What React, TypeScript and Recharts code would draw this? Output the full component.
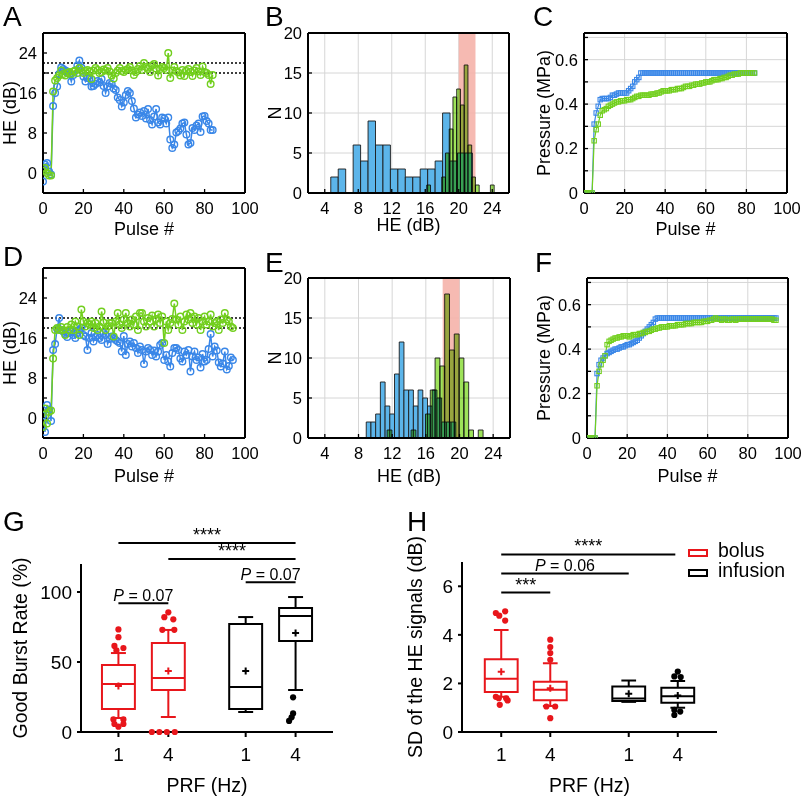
import React from 'react';
import {
  ComposedChart, Line, XAxis, YAxis, CartesianGrid,
  ReferenceArea, ReferenceLine, Scatter
} from 'recharts';

const FONT = '"Liberation Sans", Arial, Helvetica, sans-serif';
const INK = '#000';
const BLUE_LINE = '#3a87e8';
const GREEN_LINE = '#72cf1e';
const BLUE_BAR = '#5cb5ea';
const GREEN_BAR = '#9ee35a';
const BAND = '#f5b2aa';
const RED = '#e8161b';

// ---------- A / D : HE per pulse (pulse index starts at 0) ----------
const aBlue = [
  -1.7, 1.7, 2, 0.3, -0.3, 13.4, 16, 17.3, 19.8, 21.1,
  20.8, 20.5, 20.3, 19.8, 18.3, 19.6, 20.5, 21.5, 22.5, 21.1,
  19.3, 18.3, 19, 18.9, 17.3, 17.4, 17.8, 18.4, 18.1, 18.8,
  17.4, 16, 17.3, 18, 17.8, 16.9, 16.6, 15.1, 14.6, 13.3,
  14.1, 15.6, 16.4, 16, 14.4, 12.9, 11.1, 11.7, 12.1, 11.4,
  12.4, 10.9, 12.8, 10.6, 9.7, 11.3, 12.8, 10.1, 9.7, 11.1,
  10.9, 9.9, 11.1, 6.7, 5, 5.7, 8.1, 8.4, 8.9, 9.9,
  10.1, 7.7, 5.7, 6, 9, 8.6, 9.5, 9.9, 8.2, 11.3,
  11.4, 10.4, 9.9, 8.6, 8.6,
];
const aGreen = [
  0.5, 1, 0, -0.5, -0.5, 16.3, 18.5, 19, 19.5, 20.5,
  19.8, 19.5, 20, 20.2, 19.8, 20.3, 20.5, 20, 21, 20.5,
  20, 20.4, 20.6, 20.3, 18.8, 20.5, 21, 20.6, 20, 20.2,
  20.7, 20.5, 21, 20.3, 19.5, 18.9, 20, 20.5, 21, 20.4,
  20.2, 20.6, 20.8, 21.2, 20.5, 19.6, 20.2, 20.8, 21.4, 20.6,
  22, 21.2, 20.8, 20.2, 21.5, 21.8, 20.9, 19.5, 20.8, 21.2,
  21, 20.6, 24, 19, 20.5, 21.2, 20.4, 20.1, 19.5, 20.6,
  19.4, 20.4, 20.8, 20.2, 19.4, 20.5, 21, 20.3, 19.6, 21.3,
  20.2, 20, 19.6, 17.8, 19.6,
];
const aGuides = [22, 20];

const dBlue = [
  0.5, -2.8, 2.6, 1.7, -0.6, 13.6, 14.8, 17.8, 20, 17.6,
  17.3, 16.8, 16.2, 17, 17.3, 16.6, 16, 17, 17.6, 18,
  16.6, 16.3, 13.6, 16, 17, 15.3, 16.2, 16.6, 16, 15.6,
  17, 16.6, 14.8, 15.8, 16.3, 16, 15.6, 15.3, 15, 13.3,
  16.4, 12.6, 14.8, 15.3, 14.3, 15, 14, 13, 14.3, 13.6,
  10.8, 13.3, 14, 13.6, 12.6, 13.5, 12.3, 13.3, 14.6, 15,
  11.6, 12.6, 11.3, 10.3, 13, 14, 14, 13.6, 11.9, 11.3,
  13.3, 12.6, 13.6, 9.3, 12.3, 13.3, 11.6, 12.1, 10.1, 12.8,
  11.3, 11.6, 13.8, 16.8, 12.3, 14.3, 13.5, 11.1, 10.3, 10.9,
  13.3, 9.7, 10.4, 12.1, 11.6,
];
const dGreen = [
  -1.8, 1.9, -1.1, 1.2, 1.5, 11.9, 17.6, 18, 17.6, 18.2,
  17.6, 16.6, 18.2, 17.6, 18.7, 17.6, 19.3, 18.3, 16.6, 21.7,
  19.3, 18.3, 19, 18.7, 19.3, 18, 19, 17.6, 18.3, 21.3,
  19.1, 17.6, 18.3, 19, 19, 16.3, 19.3, 21, 18.7, 18,
  19.7, 21, 19, 18.3, 19.7, 18.7, 20.3, 17.6, 21, 21,
  19.3, 18.3, 20, 19.3, 20.5, 18.3, 19.8, 20.7, 19, 20.3,
  15, 19.3, 17.6, 19, 19.8, 22.9, 19.7, 18.7, 20.3, 17.6,
  19.3, 20.7, 19.7, 21, 19, 20.3, 18.7, 20, 17.6, 19.3,
  20.3, 18.7, 19.3, 20.7, 18.3, 19, 19.3, 17.6, 19.7, 19,
  21, 19.7, 19.3, 18.3, 18,
];
const dGuides = [20, 18];

// ---------- C / F : pressure per pulse ----------
const cBlue = [
  0, 0, 0, 0, 0, 0.31, 0.36, 0.39, 0.42, 0.425,
  0.425, 0.425, 0.425, 0.43, 0.44, 0.44, 0.445, 0.45, 0.45, 0.45,
  0.45, 0.45, 0.46, 0.47, 0.48, 0.5, 0.51, 0.52, 0.54, 0.54,
  0.54, 0.54, 0.54, 0.54, 0.54, 0.54, 0.54, 0.54, 0.54, 0.54,
  0.54, 0.54, 0.54, 0.54, 0.54, 0.54, 0.54, 0.54, 0.54, 0.54,
  0.54, 0.54, 0.54, 0.54, 0.54, 0.54, 0.54, 0.54, 0.54, 0.54,
  0.54, 0.54, 0.54, 0.54, 0.54, 0.54, 0.54, 0.54, 0.54, 0.54,
  0.54, 0.54, 0.54, 0.54, 0.54, 0.54, 0.54, 0.54, 0.54, 0.54,
  0.54, 0.54, 0.54, 0.54, 0.54,
];
const cGreen = [
  0, 0, 0, 0, 0, 0.235, 0.285, 0.31, 0.35, 0.37,
  0.375, 0.38, 0.39, 0.395, 0.4, 0.405, 0.41, 0.41, 0.415, 0.415,
  0.415, 0.42, 0.42, 0.42, 0.425, 0.43, 0.435, 0.435, 0.44, 0.44,
  0.44, 0.44, 0.44, 0.445, 0.445, 0.445, 0.45, 0.45, 0.455, 0.46,
  0.46, 0.46, 0.46, 0.465, 0.465, 0.465, 0.47, 0.47, 0.47, 0.475,
  0.48, 0.48, 0.48, 0.485, 0.485, 0.49, 0.49, 0.49, 0.495, 0.495,
  0.5, 0.5, 0.5, 0.505, 0.51, 0.51, 0.51, 0.515, 0.515, 0.52,
  0.52, 0.525, 0.53, 0.53, 0.535, 0.535, 0.535, 0.54, 0.54, 0.54,
  0.54, 0.54, 0.54, 0.54, 0.54,
];
const fBlue = [
  0, 0, 0, 0, 0, 0.29, 0.33, 0.35, 0.36, 0.37,
  0.38, 0.385, 0.39, 0.395, 0.4, 0.4, 0.405, 0.41, 0.41, 0.415,
  0.42, 0.42, 0.425, 0.43, 0.435, 0.44, 0.45, 0.46, 0.47, 0.48,
  0.49, 0.5, 0.51, 0.52, 0.535, 0.54, 0.54, 0.54, 0.54, 0.54,
  0.54, 0.54, 0.54, 0.54, 0.54, 0.54, 0.54, 0.54, 0.54, 0.54,
  0.54, 0.54, 0.54, 0.54, 0.54, 0.54, 0.54, 0.54, 0.54, 0.54,
  0.54, 0.54, 0.54, 0.54, 0.54, 0.54, 0.54, 0.54, 0.54, 0.54,
  0.54, 0.54, 0.54, 0.54, 0.54, 0.54, 0.54, 0.54, 0.54, 0.54,
  0.54, 0.54, 0.54, 0.54, 0.54, 0.54, 0.54, 0.54, 0.54, 0.54,
  0.54, 0.54, 0.54, 0.54, 0.54,
];
const fGreen = [
  0, 0, 0, 0, 0, 0.235, 0.3, 0.33, 0.35, 0.37,
  0.42, 0.435, 0.44, 0.445, 0.45, 0.45, 0.455, 0.455, 0.46, 0.46,
  0.46, 0.455, 0.46, 0.465, 0.465, 0.465, 0.47, 0.47, 0.475, 0.475,
  0.48, 0.48, 0.485, 0.49, 0.49, 0.495, 0.495, 0.5, 0.5, 0.5,
  0.5, 0.505, 0.505, 0.505, 0.505, 0.51, 0.51, 0.51, 0.51, 0.515,
  0.515, 0.515, 0.515, 0.52, 0.52, 0.52, 0.52, 0.52, 0.525, 0.525,
  0.525, 0.53, 0.53, 0.535, 0.54, 0.535, 0.535, 0.53, 0.535, 0.535,
  0.53, 0.53, 0.535, 0.535, 0.53, 0.535, 0.535, 0.535, 0.535, 0.535,
  0.535, 0.535, 0.535, 0.535, 0.535, 0.535, 0.535, 0.535, 0.535, 0.535,
  0.535, 0.535, 0.535, 0.53, 0.53,
];

// ---------- B / E : histograms ----------
const bBlueStart = 4.72;
const bBlueWidth = 0.89;
const bBlueCounts = [2, 3, 0, 6, 4, 9, 6, 6, 3, 3, 2, 2, 3, 3, 4, 10, 4, 5, 5];
const bGreenStart = 16.18;
const bGreenWidth = 0.447;
const bGreenCounts = [1, 0, 0, 0, 2, 5, 8, 12, 13, 11, 16, 6, 2, 1, 0, 0, 0, 1];
const bBand = [20, 22];

const eBlueStart = 8.92;
const eBlueWidth = 0.56;
const eBlueCounts = [2, 2, 3, 7, 4, 3, 8, 12, 6, 6, 4, 6, 5, 4, 6, 5, 2, 2, 2];
const eGreenStart = 11.4;
const eGreenWidth = 0.57;
const eGreenCounts = [1, 0, 0, 0, 0, 1, 0, 0, 3, 6, 10, 9, 18, 11, 13, 10, 7, 1, 0, 1];
const eBand = [18, 20];

// ---------- G / H : box plots ----------
const prfLabels = ['1', '4', '1', '4'];
const boxGroups = ['bolus', 'bolus', 'infusion', 'infusion'];

const gPos = [1, 2, 3.55, 4.55];
const gQ1 = [16.4, 30, 16.4, 65];
const gMed = [34.3, 38.6, 32.1, 82.9];
const gQ3 = [47.9, 63.6, 77.1, 88.6];
const gLo = [10, 10.7, 14.3, 30];
const gHi = [56.4, 72.9, 82.1, 96.4];
const gMean = [32.9, 43.6, 43.6, 70.7];
const gOutliers = [
  { g: 0, v: 73.3, dx: 0 }, { g: 0, v: 67.7, dx: 0 }, { g: 0, v: 61.5, dx: -0.08 },
  { g: 0, v: 60, dx: 0.1 }, { g: 0, v: 58.3, dx: -0.04 }, { g: 0, v: 9, dx: -0.1 },
  { g: 0, v: 9, dx: 0.1 }, { g: 0, v: 5.7, dx: -0.08 }, { g: 0, v: 5.7, dx: 0.1 },
  { g: 0, v: 3.8, dx: 0 },
  { g: 1, v: 85.5, dx: 0 }, { g: 1, v: 82, dx: -0.08 }, { g: 1, v: 80.5, dx: 0.1 },
  { g: 1, v: 73, dx: -0.12 }, { g: 1, v: 73, dx: 0.12 }, { g: 1, v: 0, dx: -0.33 },
  { g: 1, v: 0, dx: -0.18 }, { g: 1, v: 0, dx: -0.03 }, { g: 1, v: 0, dx: 0.13 },
  { g: 3, v: 24.8, dx: -0.05 }, { g: 3, v: 13.3, dx: -0.05 }, { g: 3, v: 10.5, dx: -0.08 },
  { g: 3, v: 7.9, dx: -0.13 },
];
const gSigs = [
  { x1: 1, x2: 4.55, y: 135, text: '****' },
  { x1: 2, x2: 4.55, y: 123.6, text: '****' },
  { x1: 3.55, x2: 4.55, y: 107, text: 'P = 0.07' },
  { x1: 1, x2: 2, y: 92, text: 'P = 0.07' },
];

const hPos = [1, 2, 3.6, 4.6];
const hQ1 = [1.65, 1.31, 1.28, 1.2];
const hMed = [2.19, 1.74, 1.38, 1.47];
const hQ3 = [3.0, 2.07, 1.87, 1.82];
const hLo = [1.45, 1.07, 1.24, 1.0];
const hHi = [4.2, 2.83, 2.12, 2.1];
const hMean = [2.48, 1.8, 1.58, 1.5];
const hOutliers = [
  { g: 0, v: 4.97, dx: 0.08 }, { g: 0, v: 4.9, dx: -0.11 }, { g: 0, v: 4.79, dx: -0.04 },
  { g: 0, v: 4.59, dx: 0.08 }, { g: 0, v: 1.45, dx: -0.11 }, { g: 0, v: 1.39, dx: -0.05 },
  { g: 0, v: 1.39, dx: 0.1 }, { g: 0, v: 1.3, dx: 0.13 }, { g: 0, v: 1.12, dx: -0.03 },
  { g: 1, v: 3.8, dx: 0 }, { g: 1, v: 3.5, dx: 0 }, { g: 1, v: 3.25, dx: 0 },
  { g: 1, v: 2.97, dx: 0 }, { g: 1, v: 1.05, dx: -0.08 }, { g: 1, v: 1.05, dx: 0.1 },
  { g: 1, v: 0.57, dx: 0 },
  { g: 3, v: 2.49, dx: 0 }, { g: 3, v: 2.29, dx: -0.07 }, { g: 3, v: 2.26, dx: 0.06 },
  { g: 3, v: 0.91, dx: -0.07 }, { g: 3, v: 0.84, dx: 0.05 }, { g: 3, v: 0.7, dx: -0.07 },
];
const hSigs = [
  { x1: 1, x2: 4.55, y: 7.31, text: '****' },
  { x1: 1, x2: 3.6, y: 6.53, text: 'P = 0.06' },
  { x1: 1, x2: 2, y: 5.74, text: '***' },
];

// ---------- axis ticks ----------
const pulseTicks = [0, 20, 40, 60, 80, 100];
const heTicks = [-4, 0, 4, 8, 12, 16, 20, 24, 28];
const binTicks = [4, 8, 12, 16, 20, 24];
const countTicks = [0, 5, 10, 15, 20];
const mpaTicks = [0, 0.1, 0.2, 0.3, 0.4, 0.5, 0.6, 0.7];

const heFmt = (v: number) => (v >= 0 && v <= 24 && v % 8 === 0 ? String(v) : '');
const mpaFmt = (v: number) => {
  const k = Math.round(v * 10);
  if (k % 2 !== 0 || k > 6) return '';
  return k === 0 ? '0' : v.toFixed(1);
};

const rowsOf = (blue: number[], green: number[]) =>
  blue.map((b, i) => ({ p: i, blue: b, green: green[i] }));

const binsOf = (start: number, width: number, counts: number[]) =>
  counts
    .map((n, i) => ({ x1: start + i * width, x2: start + (i + 1) * width, n }))
    .filter((b) => b.n > 0);

const circleDot = (c: string) => ({ r: 3.3, stroke: c, strokeWidth: 1.4, fill: 'none' });
const squareDot = (c: string) => (props: any) => (
  <rect
    key={`sq-${props.index}`}
    x={props.cx - 2.2}
    y={props.cy - 2.2}
    width={4.4}
    height={4.4}
    fill="none"
    stroke={c}
    strokeWidth={1.1}
  />
);

// right-hand room for the "100" tick label that hangs past the frame
const RIGHT = 22;
const XH = 52;

function Frame(props: any) {
  const {
    fl, ft, fw, fh, cl, xDomain, xTicks, yDomain, yTicks, yFmt,
    xLabel, xLabelBase, yLabel, yLabelX, grid, data, children,
  } = props;
  const yw = fl - cl;
  const w = yw + fw + RIGHT;
  const h = 10 + fh + XH;
  const axisLine = { stroke: INK, strokeWidth: 2 };
  const tickLine = { stroke: INK, strokeWidth: 1.3 };
  const tickStyle = { fill: INK, fontSize: 16.5 };
  return (
    <div style={{ position: 'absolute', left: cl, top: ft - 10 }}>
      <ComposedChart width={w} height={h} data={data} margin={{ top: 9, right: RIGHT - 1, bottom: 0, left: 0 }}>
        {grid && <CartesianGrid stroke="#d6d6d6" strokeWidth={1} />}
        {children}
        <XAxis
          dataKey="p" type="number" domain={xDomain} ticks={xTicks} interval={0}
          allowDataOverflow height={XH} axisLine={axisLine} tickLine={tickLine}
          tickSize={-4} tickMargin={13} tick={tickStyle}
          label={{
            value: xLabel, position: 'insideBottom', offset: ft + fh + XH - xLabelBase,
            fill: INK, fontSize: 18,
          }}
        />
        <XAxis
          xAxisId="top" orientation="top" type="number" domain={xDomain} ticks={xTicks}
          interval={0} allowDataOverflow height={1} axisLine={axisLine} tickLine={tickLine}
          tickSize={-4} tick={false}
        />
        <YAxis
          type="number" domain={yDomain} ticks={yTicks} interval={0} allowDataOverflow
          width={yw} axisLine={axisLine} tickLine={tickLine} tickSize={-4} tickMargin={10}
          tick={tickStyle} tickFormatter={yFmt}
          label={{
            value: yLabel, angle: -90, position: 'insideLeft', offset: yLabelX - cl,
            fill: INK, fontSize: 18, style: { textAnchor: 'middle' },
          }}
        />
        <YAxis
          yAxisId="right" orientation="right" type="number" domain={yDomain} ticks={yTicks}
          interval={0} allowDataOverflow width={1} axisLine={axisLine} tickLine={tickLine}
          tickSize={-4} tick={false}
        />
      </ComposedChart>
    </div>
  );
}

const histAreas = (key: string, bins: any[], fill: string, mult: boolean) =>
  bins.map((b, i) => (
    <ReferenceArea
      key={`${key}-${i}`}
      x1={b.x1} x2={b.x2} y1={0} y2={b.n}
      fill={fill} fillOpacity={1} stroke="#1c1c1c" strokeWidth={0.9}
      className={mult ? 'mult' : undefined}
    />
  ));

const sigLabel = (text: string) => (props: any) => {
  const vb = props.viewBox || { x: 0, y: 0, width: 0 };
  const cx = vb.x + vb.width / 2;
  if (text.startsWith('*')) {
    return (
      <text x={cx} y={vb.y - 2} textAnchor="middle" fontSize={18} fill={INK}>{text}</text>
    );
  }
  const [head, tail] = text.split(' = ');
  return (
    <text x={cx} y={vb.y - 2.5} textAnchor="middle" fontSize={16} fill={INK}>
      <tspan fontStyle="italic">{head}</tspan>
      {` = ${tail}`}
    </text>
  );
};

function BoxPanel(props: any) {
  const {
    left, top, width, height, pl, pt, pr, pb, xDomain, yDomain, yTicks, pos,
    q1, med, q3, lo, hi, mean, outliers, sigs, yLabel, yLabelX, hw,
  } = props;
  const cap = 0.15;
  const colorOf = (i: number) => (boxGroups[i] === 'bolus' ? RED : INK);
  const seg = (key: string, x1: number, y1: number, x2: number, y2: number, c: string) => (
    <ReferenceLine
      key={key} ifOverflow="visible" stroke={c} strokeWidth={2}
      segment={[{ x: x1, y: y1 }, { x: x2, y: y2 }]}
    />
  );
  const items: any[] = [];
  pos.forEach((x: number, i: number) => {
    const c = colorOf(i);
    items.push(
      <ReferenceArea
        key={`box-${i}`} x1={x - hw} x2={x + hw} y1={q1[i]} y2={q3[i]}
        fill="none" fillOpacity={0} stroke={c} strokeWidth={2} ifOverflow="visible"
      />
    );
    items.push(seg(`med-${i}`, x - hw, med[i], x + hw, med[i], c));
    items.push(seg(`wu-${i}`, x, q3[i], x, hi[i], c));
    items.push(seg(`wl-${i}`, x, q1[i], x, lo[i], c));
    items.push(seg(`cu-${i}`, x - cap, hi[i], x + cap, hi[i], c));
    items.push(seg(`cl-${i}`, x - cap, lo[i], x + cap, lo[i], c));
  });
  const meanPts = pos.map((x: number, i: number) => ({ x, y: mean[i], c: colorOf(i) }));
  const outPts = outliers.map((o: any) => ({ x: pos[o.g] + o.dx, y: o.v, c: colorOf(o.g) }));
  return (
    <div style={{ position: 'absolute', left, top }}>
      <ComposedChart width={width} height={height} margin={{ top: pt, right: pr, left: 0, bottom: 0 }}>
        {items}
        {sigs.map((s: any, i: number) => (
          <ReferenceLine
            key={`sig-${i}`} ifOverflow="visible" stroke={INK} strokeWidth={2}
            segment={[{ x: s.x1, y: s.y }, { x: s.x2, y: s.y }]}
            label={sigLabel(s.text)}
          />
        ))}
        <Scatter
          data={outPts} isAnimationActive={false}
          shape={(p: any) => <circle cx={p.cx} cy={p.cy} r={3.1} fill={p.payload.c} />}
        />
        <Scatter
          data={meanPts} isAnimationActive={false}
          shape={(p: any) => (
            <path
              d={`M${p.cx - 3.5},${p.cy}h7M${p.cx},${p.cy - 3.5}v7`}
              stroke={p.payload.c} strokeWidth={2} fill="none"
            />
          )}
        />
        <XAxis
          dataKey="x" type="number" domain={xDomain} ticks={pos} interval={0}
          tickFormatter={(_v: number, i: number) => prfLabels[i]}
          height={pb} axisLine={{ stroke: INK, strokeWidth: 2 }}
          tickLine={{ stroke: INK, strokeWidth: 2 }} tickSize={5} tickMargin={11}
          tick={{ fill: INK, fontSize: 19 }}
          label={{ value: 'PRF (Hz)', position: 'insideBottom', offset: 5, fill: INK, fontSize: 19.5 }}
        />
        <YAxis
          dataKey="y" type="number" domain={yDomain} ticks={yTicks} interval={0}
          width={pl} axisLine={{ stroke: INK, strokeWidth: 2 }}
          tickLine={{ stroke: INK, strokeWidth: 2 }} tickSize={4} tickMargin={5}
          tick={{ fill: INK, fontSize: 19 }}
          label={{
            value: yLabel, angle: -90, position: 'insideLeft', offset: yLabelX - left,
            fill: INK, fontSize: 19.5, style: { textAnchor: 'middle' },
          }}
        />
      </ComposedChart>
    </div>
  );
}

const letter = (ch: string, x: number, capTop: number) => (
  <div
    key={ch}
    style={{
      position: 'absolute', left: x, top: capTop - 3.7, fontSize: 28,
      lineHeight: '28px', color: INK,
    }}
  >
    {ch}
  </div>
);

export default function App() {
  const aRows = rowsOf(aBlue, aGreen);
  const dRows = rowsOf(dBlue, dGreen);
  const cRows = rowsOf(cBlue, cGreen);
  const fRows = rowsOf(fBlue, fGreen);

  const heLines = (guides: number[]) => [
    ...guides.map((g) => (
      <ReferenceLine key={`g-${g}`} y={g} stroke={INK} strokeWidth={1.5} strokeDasharray="2 2" />
    )),
    <Line key="blue" dataKey="blue" stroke={BLUE_LINE} strokeWidth={1.5} dot={circleDot(BLUE_LINE)} isAnimationActive={false} />,
    <Line key="green" dataKey="green" stroke={GREEN_LINE} strokeWidth={1.5} dot={circleDot(GREEN_LINE)} isAnimationActive={false} />,
  ];
  const mpaLines = [
    <Line key="blue" dataKey="blue" stroke={BLUE_LINE} strokeWidth={1.2} dot={squareDot(BLUE_LINE)} isAnimationActive={false} />,
    <Line key="green" dataKey="green" stroke={GREEN_LINE} strokeWidth={1.2} dot={squareDot(GREEN_LINE)} isAnimationActive={false} />,
  ];

  return (
    <div
      style={{
        position: 'absolute', left: 0, top: 0, width: 802, height: 797,
        background: '#fff', overflow: 'hidden', fontFamily: FONT,
      }}
    >
      <style>{'.mult, .mult path { mix-blend-mode: multiply; }'}</style>

      {letter('A', 3, 7)}
      {letter('B', 265, 7)}
      {letter('C', 533, 7)}
      {letter('D', 3, 247)}
      {letter('E', 265, 253)}
      {letter('F', 535, 253)}
      {letter('G', 3, 512)}
      {letter('H', 407, 512)}

      <Frame
        fl={43} ft={33} fw={202} fh={160} cl={0} data={aRows}
        xDomain={[0, 100]} xTicks={pulseTicks} yDomain={[-4, 28]} yTicks={heTicks} yFmt={heFmt}
        xLabel="Pulse #" xLabelBase={235} yLabel="HE (dB)" yLabelX={10}
      >
        {heLines(aGuides)}
      </Frame>

      <Frame
        fl={308} ft={33} fw={201} fh={160} cl={262} grid
        xDomain={[2, 26]} xTicks={binTicks} yDomain={[0, 20]} yTicks={countTicks}
        xLabel="HE (dB)" xLabelBase={231} yLabel="N" yLabelX={275}
      >
        <ReferenceArea x1={bBand[0]} x2={bBand[1]} y1={0} y2={20} fill={BAND} fillOpacity={0.9} stroke="none" />
        {histAreas('bb', binsOf(bBlueStart, bBlueWidth, bBlueCounts), BLUE_BAR, false)}
        {histAreas('bg', binsOf(bGreenStart, bGreenWidth, bGreenCounts), GREEN_BAR, true)}
      </Frame>

      <Frame
        fl={584} ft={33} fw={203} fh={160} cl={528} grid data={cRows}
        xDomain={[0, 100]} xTicks={pulseTicks} yDomain={[0, 0.72]} yTicks={mpaTicks} yFmt={mpaFmt}
        xLabel="Pulse #" xLabelBase={235} yLabel="Pressure (MPa)" yLabelX={544}
      >
        {mpaLines}
      </Frame>

      <Frame
        fl={43} ft={268} fw={202} fh={170} cl={0} data={dRows}
        xDomain={[0, 100]} xTicks={pulseTicks} yDomain={[-4, 30]} yTicks={heTicks} yFmt={heFmt}
        xLabel="Pulse #" xLabelBase={482} yLabel="HE (dB)" yLabelX={10}
      >
        {heLines(dGuides)}
      </Frame>

      <Frame
        fl={308} ft={278} fw={202} fh={160} cl={262} grid
        xDomain={[2, 26]} xTicks={binTicks} yDomain={[0, 20]} yTicks={countTicks}
        xLabel="HE (dB)" xLabelBase={482} yLabel="N" yLabelX={275}
      >
        <ReferenceArea x1={eBand[0]} x2={eBand[1]} y1={0} y2={20} fill={BAND} fillOpacity={0.9} stroke="none" />
        {histAreas('eb', binsOf(eBlueStart, eBlueWidth, eBlueCounts), BLUE_BAR, false)}
        {histAreas('eg', binsOf(eGreenStart, eGreenWidth, eGreenCounts), GREEN_BAR, true)}
      </Frame>

      <Frame
        fl={587} ft={278} fw={201} fh={160} cl={528} grid data={fRows}
        xDomain={[0, 100]} xTicks={pulseTicks} yDomain={[0, 0.72]} yTicks={mpaTicks} yFmt={mpaFmt}
        xLabel="Pulse #" xLabelBase={482} yLabel="Pressure (MPa)" yLabelX={544}
      >
        {mpaLines}
      </Frame>

      <BoxPanel
        left={0} top={500} width={345} height={297} pl={81} pt={64} pr={12} pb={65}
        xDomain={[0.25, 5.3]} yDomain={[0, 120]} yTicks={[0, 50, 100]} pos={gPos} hw={0.33}
        q1={gQ1} med={gMed} q3={gQ3} lo={gLo} hi={gHi} mean={gMean}
        outliers={gOutliers} sigs={gSigs} yLabel="Good Burst Rate (%)" yLabelX={20}
      />

      <BoxPanel
        left={400} top={500} width={330} height={297} pl={62} pt={62} pr={13} pb={65}
        xDomain={[0.2, 5.4]} yDomain={[0, 7]} yTicks={[0, 2, 4, 6]} pos={hPos} hw={0.335}
        q1={hQ1} med={hMed} q3={hQ3} lo={hLo} hi={hHi} mean={hMean}
        outliers={hOutliers} sigs={hSigs} yLabel="SD of the HE signals (dB)" yLabelX={415}
      />

      <div style={{ position: 'absolute', left: 688, top: 549, width: 20, height: 8, border: `2.5px solid ${RED}`, boxSizing: 'border-box' }} />
      <div style={{ position: 'absolute', left: 718, top: 541, fontSize: 19.5, lineHeight: '19.5px', color: INK }}>bolus</div>
      <div style={{ position: 'absolute', left: 688, top: 569, width: 20, height: 8, border: `2.5px solid ${INK}`, boxSizing: 'border-box' }} />
      <div style={{ position: 'absolute', left: 718, top: 561, fontSize: 19.5, lineHeight: '19.5px', color: INK }}>infusion</div>
    </div>
  );
}
